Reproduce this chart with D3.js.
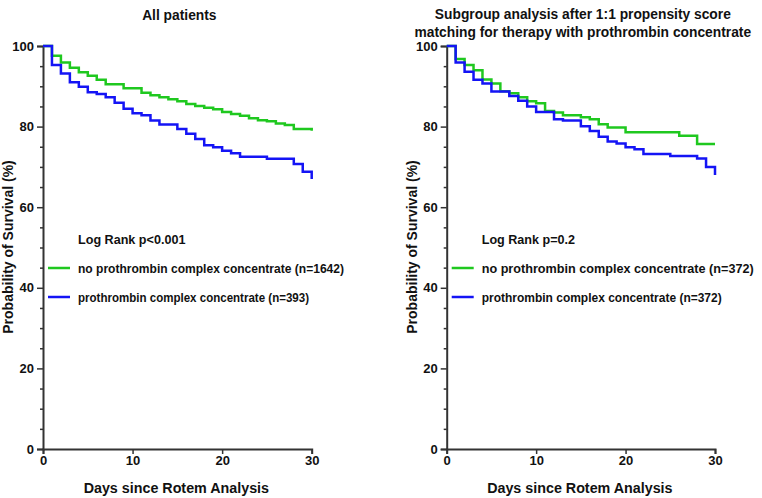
<!DOCTYPE html>
<html><head><meta charset="utf-8">
<script src="https://cdn.jsdelivr.net/npm/d3@7"></script>
<style>body{margin:0;background:#fff}svg{display:block}text{font-family:"Liberation Sans",Arial,sans-serif;font-weight:bold;fill:#111}</style>
</head><body>
<script>
// ---- data ----
const leftGreenDays = [0,1,2,3,4,5,6,7,9,11,12,13,14,15,16,17,18,19,20,21,22,23,24,25,26,27,28,30];
const leftGreenSurv = [100,97.6,95.9,94.6,93.5,92.6,91.6,90.5,89.5,88.4,87.8,87.3,86.8,86.3,85.6,85.1,84.7,84.3,83.6,83.1,82.7,82.1,81.6,81.3,80.8,80.4,79.4,79.0];
const leftBlueDays = [0,1,2,3,4,5,6,7,8,9,10,11,12,13,15,16,17,18,19,20,21,22,25,28,29,30];
const leftBlueSurv = [100,95.3,93.2,91.0,89.9,88.5,88.1,87.3,85.9,84.4,83.3,82.8,81.5,80.5,79.4,78.2,76.9,75.4,74.9,74.0,73.4,72.5,72.0,70.7,68.8,67.0];
const rightGreenDays = [0,1,2,3,4,5,6,7,8,9,10,11,12,13,15,16,17,18,20,26,28,30];
const rightGreenSurv = [100,96.8,95.3,94.0,91.7,90.7,88.8,88.3,87.3,86.3,85.8,83.9,83.5,82.8,82.3,81.8,80.6,79.8,78.6,77.7,75.7,75.7];
const rightBlueDays = [0,1,2,3,4,5,7,8,9,10,12,13,15,16,17,18,19,20,21,22,25,28,29,30];
const rightBlueSurv = [100,95.9,93.6,91.6,90.7,88.7,87.6,86.4,85.0,83.6,81.8,81.5,80.1,78.9,77.5,76.3,75.8,74.9,74.4,73.2,72.7,72.1,70.0,68.0];
const xTicks = [0,10,20,30];
const yTicks = [0,20,40,60,80,100];
const yMinorTicks = [5,10,15,25,30,35,45,50,55,65,70,75,85,90,95];
const seriesNames = ["no prothrombin complex concentrate","prothrombin complex concentrate"];
const leftN = [1642,393];
const rightN = [372,372];
const titlesLeft = ["All patients"];
const titlesRight = ["Subgroup analysis after 1:1 propensity score","matching for therapy with prothrombin concentrate"];
const logRank = ["Log Rank p<0.001","Log Rank p=0.2"];
const xLabel = "Days since Rotem Analysis";
const yLabel = "Probability of Survival (%)";

const GREEN = "#1fc81f", BLUE = "#1414f5";
const W = 762, H = 498;
const svg = d3.select("body").append("svg").attr("width", W).attr("height", H);

function panel(cfg){
  const x = d3.scaleLinear().domain([0,30]).range([cfg.x0, cfg.x1]);
  const y = d3.scaleLinear().domain([0,100]).range([449, 46]);
  const g = svg.append("g");
  // y axis
  const ya = g.append("g").attr("transform",`translate(${cfg.x0},0)`)
    .call(d3.axisLeft(y).tickValues(yTicks).tickSize(6).tickPadding(3));
  ya.select(".domain").attr("stroke","#333").attr("stroke-width",2);
  ya.selectAll(".tick line").attr("stroke","#333").attr("stroke-width",1.5);
  ya.selectAll(".tick text").style("font-size","13px").style("font-weight","bold").attr("fill","#111");
  const ym = g.append("g").attr("transform",`translate(${cfg.x0},0)`)
    .call(d3.axisLeft(y).tickValues(yMinorTicks).tickSize(3).tickFormat(""));
  ym.select(".domain").remove();
  ym.selectAll(".tick line").attr("stroke","#333").attr("stroke-width",1.5);
  // x axis
  const xa = g.append("g").attr("transform",`translate(0,449)`)
    .call(d3.axisBottom(x).tickValues(xTicks).tickSize(5).tickPadding(2));
  xa.select(".domain").attr("stroke","#333").attr("stroke-width",2);
  xa.selectAll(".tick line").attr("stroke","#333").attr("stroke-width",1.5);
  xa.selectAll(".tick text").style("font-size","13px").style("font-weight","bold").attr("fill","#111");
  // curves
  const line = d3.line().x(d=>x(d[0])).y(d=>y(d[1])).curve(d3.curveStepAfter);
  cfg.series.forEach(s=>{
    const pts = s.days.map((d,i)=>[d,s.surv[i]]);
    g.append("path").attr("d", line(pts)).attr("fill","none").attr("stroke", s.color).attr("stroke-width",2.5);
  });
  // titles
  const cx = (cfg.x0+cfg.x1)/2;
  cfg.titles.forEach((t,i)=>{
    g.append("text").attr("x",cx+2).attr("y",cfg.titleY + i*18).attr("text-anchor","middle").style("font-size","13.8px").text(t);
  });
  g.append("text").attr("x",cx-1).attr("y",493).attr("text-anchor","middle").style("font-size","14.3px").text(xLabel);
  g.append("text").attr("transform",`translate(${cfg.x0-30},${247}) rotate(-90)`).attr("text-anchor","middle").style("font-size","14px").text(yLabel);
  // legend
  g.append("text").attr("x",cfg.x0+35).attr("y",244).style("font-size","12.6px").text(cfg.logRank);
  cfg.series.forEach((s,i)=>{
    const ly = 268 + i*29;
    g.append("line").attr("x1",cfg.x0+5).attr("x2",cfg.x0+27).attr("y1",ly).attr("y2",ly).attr("stroke",s.color).attr("stroke-width",2.5);
    g.append("text").attr("x",cfg.x0+35).attr("y",ly+4.5).style("font-size","13px")
      .attr("textLength", cfg.legendW[i]).attr("lengthAdjust","spacingAndGlyphs")
      .text(`${s.name} (n=${s.n})`);
  });
}

panel({x0:43, x1:311.7, titleY:20, titles:titlesLeft, logRank:logRank[0], legendW:[266,231], series:[
  {days:leftGreenDays, surv:leftGreenSurv, color:GREEN, name:seriesNames[0], n:leftN[0]},
  {days:leftBlueDays, surv:leftBlueSurv, color:BLUE, name:seriesNames[1], n:leftN[1]}]});
panel({x0:446.7, x1:715, titleY:19, titles:titlesRight, logRank:logRank[1], legendW:[272,240], series:[
  {days:rightGreenDays, surv:rightGreenSurv, color:GREEN, name:seriesNames[0], n:rightN[0]},
  {days:rightBlueDays, surv:rightBlueSurv, color:BLUE, name:seriesNames[1], n:rightN[1]}]});
</script>
</body></html>
